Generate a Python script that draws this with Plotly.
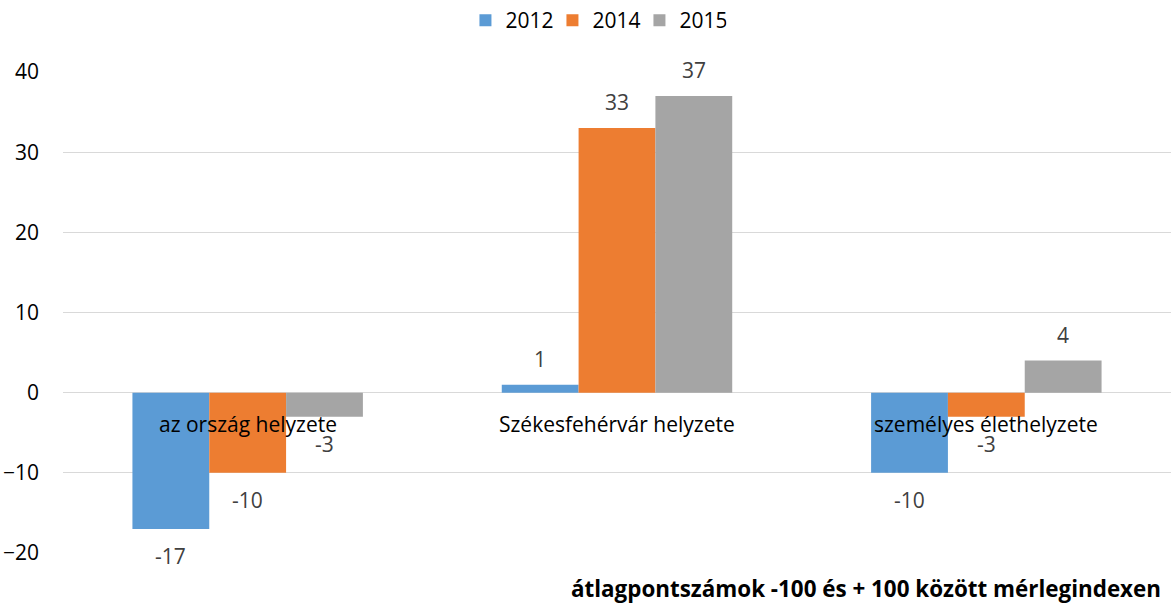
import plotly.graph_objects as go

categories = ["az ország helyzete", "Székesfehérvár helyzete", "személyes élethelyzete"]
series_names = ["2012", "2014", "2015"]
values_2012 = [-17, 1, -10]
values_2014 = [-10, 33, -3]
values_2015 = [-3, 37, 4]
colors = ["#5B9BD5", "#ED7D31", "#A5A5A5"]
y_ticks = [-20, -10, 0, 10, 20, 30, 40]
footnote = "átlagpontszámok -100 és + 100 között mérlegindexen"

FONT = "Open Sans"
FS = 21
all_values = [values_2012, values_2014, values_2015]

fig = go.Figure()
for name, vals, col in zip(series_names, all_values, colors):
    fig.add_trace(go.Bar(
        name=name, x=categories, y=vals, marker=dict(color=col, line=dict(width=0)),
        offsetgroup=name,
    ))

# data labels
bar_w = 0.208
offsets = [-bar_w, 0, bar_w]
annotations = []
for vals, off in zip(all_values, offsets):
    for i, v in enumerate(vals):
        annotations.append(dict(
            x=i + off, y=v, xref="x", yref="y", text=str(v), showarrow=False,
            yshift=26 if v > 0 else -27, yanchor="middle",
            font=dict(family=FONT, size=FS, color="#404040"),
        ))
# category labels near zero line
for i, c in enumerate(categories):
    annotations.append(dict(
        x=i, y=0, xref="x", yref="y", text=c, showarrow=False,
        yshift=-31, yanchor="middle",
        font=dict(family=FONT, size=FS, color="#000000"),
    ))
annotations.append(dict(
    x=0.9928, xref="paper", xanchor="right", y=-0.073, yref="paper", yanchor="middle",
    text="<b>" + footnote + "</b>", showarrow=False,
    font=dict(family=FONT, size=22.4, color="#000000"),
))

fig.update_layout(
    width=1171, height=603,
    margin=dict(l=63, r=0, t=72, b=50, autoexpand=False),
    paper_bgcolor="white", plot_bgcolor="white",
    barmode="group", bargap=0.376, bargroupgap=0,
    font=dict(family=FONT, size=FS, color="#000000"),
    legend=dict(orientation="h", x=0.481, xanchor="center", y=1.0, yref="container",
                yanchor="top", font=dict(size=FS, color="#000000"),
                itemwidth=30, traceorder="normal", entrywidth=42),
    annotations=annotations,
    showlegend=True,
)
fig.update_xaxes(showticklabels=False, showgrid=False, zeroline=False, showline=False,
                 range=[-0.5, 2.5])
fig.update_yaxes(range=[-20, 40], tickvals=y_ticks, showgrid=True, gridcolor="#D9D9D9",
                 gridwidth=1.3, zeroline=True, zerolinecolor="#D9D9D9", zerolinewidth=1.3,
                 showline=False, ticks="", ticklabelstandoff=23,
                 tickfont=dict(family=FONT, size=FS, color="#000000"))

fig.write_html("out.html", config={"displayModeBar": False},
               post_script="document.body.style.margin='0';document.body.style.padding='0';")
